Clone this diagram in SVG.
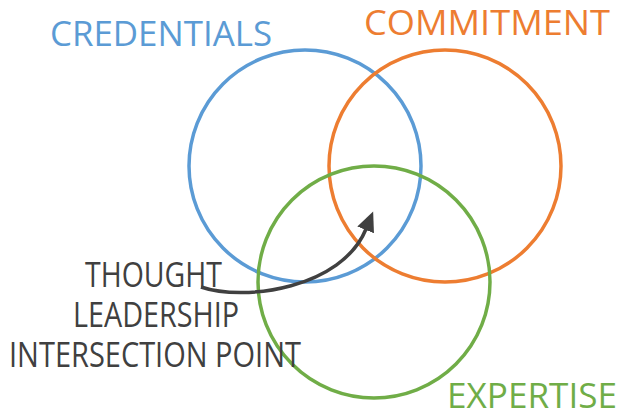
<svg xmlns="http://www.w3.org/2000/svg" width="620" height="414" viewBox="0 0 620 414">
<defs>
<style>
.c{fill:none;stroke-width:3.5}
.t{font-family:"Open Sans","Noto Sans","Liberation Sans",sans-serif;font-size:34px}
.g{fill:#404040}
</style>
<marker id="ah" markerUnits="userSpaceOnUse" markerWidth="24" markerHeight="24" viewBox="0 0 24 24" refX="1" refY="12" orient="auto">
<path d="M0,3 L20,12 L0,21 Z" fill="#404040"/>
</marker>
</defs>
<rect width="620" height="414" fill="#ffffff"/>
<g id="credentials">
<circle class="c" cx="305" cy="166" r="116" stroke="#5B9BD5"/>
<text class="t" x="50" y="46" fill="#5B9BD5" textLength="222" lengthAdjust="spacingAndGlyphs">CREDENTIALS</text>
</g>
<g id="commitment">
<circle class="c" cx="445" cy="166" r="116" stroke="#ED7D31"/>
<text class="t" x="364" y="35" fill="#ED7D31" textLength="246" lengthAdjust="spacingAndGlyphs">COMMITMENT</text>
</g>
<g id="expertise">
<circle class="c" cx="374" cy="282" r="116" stroke="#70AD47"/>
<text class="t" x="447" y="408" fill="#70AD47" textLength="170" lengthAdjust="spacingAndGlyphs">EXPERTISE</text>
</g>
<g id="label">
<text class="t g" x="85" y="287" textLength="137" lengthAdjust="spacingAndGlyphs">THOUGHT</text>
<text class="t g" x="73" y="327" textLength="166" lengthAdjust="spacingAndGlyphs">LEADERSHIP</text>
<text class="t g" x="9" y="367" textLength="292" lengthAdjust="spacingAndGlyphs">INTERSECTION POINT</text>
</g>
<g id="connectors">
<path d="M201,287 C245,302 342,288 366,229" fill="none" stroke="#404040" stroke-width="3.5" marker-end="url(#ah)"/>
</g>
</svg>
